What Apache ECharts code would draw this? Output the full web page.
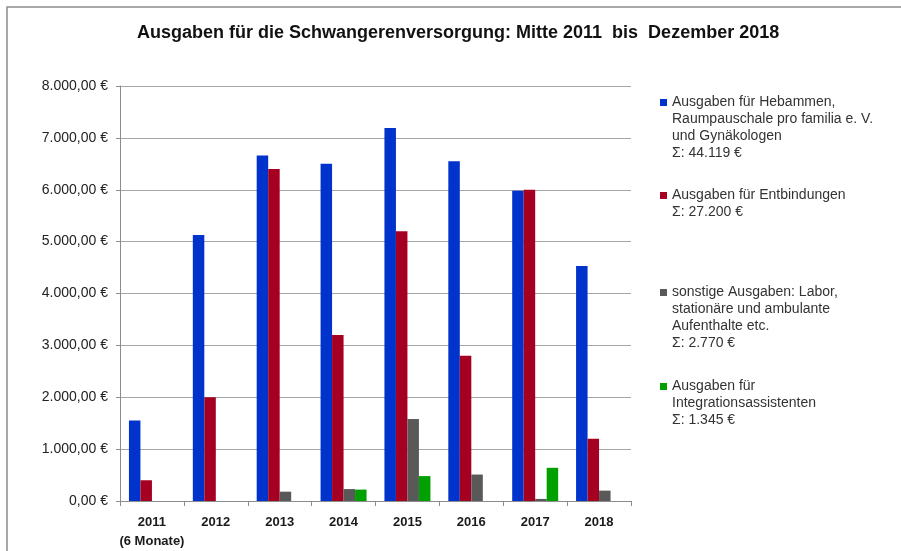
<!DOCTYPE html>
<html>
<head>
<meta charset="utf-8">
<script src="https://cdn.jsdelivr.net/npm/echarts@6/dist/echarts.min.js"></script>
<style>
  html, body { margin: 0; padding: 0; background: #fff; }
  #chart { width: 901px; height: 551px; }
</style>
</head>
<body>
<div id="chart"></div>
<script>
  const years = ['2011\n(6 Monate)', '2012', '2013', '2014', '2015', '2016', '2017', '2018']

  const seriesNames = [
    'Ausgaben für Hebammen, Raumpauschale pro familia e. V. und Gynäkologen',
    'Ausgaben für Entbindungen',
    'sonstige Ausgaben: Labor, stationäre und ambulante Aufenthalte etc.',
    'Ausgaben für Integrationsassistenten'
  ]

  // legend text lines, one array per series
  const legendLines = [
    ['Ausgaben für Hebammen,', 'Raumpauschale pro familia e. V.', 'und Gynäkologen', 'Σ: 44.119 €'],
    ['Ausgaben für Entbindungen', 'Σ: 27.200 €'],
    ['sonstige Ausgaben: Labor,', 'stationäre und ambulante', 'Aufenthalte etc.', 'Σ: 2.770 €'],
    ['Ausgaben für', 'Integrationsassistenten', 'Σ: 1.345 €']
  ]

  const hebammen = [1550, 5130, 6660, 6500, 7190, 6550, 5980, 4530]
  const entbindungen = [400, 2000, 6400, 3200, 5200, 2800, 6000, 1200]
  const sonstige = [0, 0, 180, 230, 1580, 510, 40, 200]
  const integration = [0, 0, 0, 220, 480, 0, 640, 0]

  const colors = ['#0033cc', '#a50021', '#595959', '#00a000']
  const legendTops = [94, 187, 284, 378]

  const font = '"Liberation Sans", Arial, sans-serif'
  const lineH = 17

  const euro = (val) => {
    const parts = val.toFixed(2).split('.')
    const int = parts[0].replace(/\B(?=(\d{3})+(?!\d))/g, '.')
    return int + ',' + parts[1] + ' €'
  }

  // square marker next to the first text line, box stretched to the full text block
  const legendIcon = (n) => {
    const h = n * lineH
    return 'path://M0,0L7,0M0,5L7,5L7,12L0,12ZM0,' + h + 'L7,' + h
  }

  const chart = echarts.init(document.getElementById('chart'))

  const legends = seriesNames.map((name, i) => ({
    data: [name],
    left: 660,
    top: legendTops[i],
    padding: 0,
    orient: 'vertical',
    itemWidth: 7,
    itemHeight: legendLines[i].length * lineH,
    icon: legendIcon(legendLines[i].length),
    itemStyle: { borderWidth: 0 },
    selectedMode: false,
    formatter: () => legendLines[i].join('\n'),
    textStyle: {
      fontFamily: font,
      fontSize: 14,
      color: '#333',
      lineHeight: lineH
    }
  }))

  const dataSets = [hebammen, entbindungen, sonstige, integration]

  const option = {
    backgroundColor: '#fff',
    animation: false,
    color: colors,
    title: {
      text: 'Ausgaben für die Schwangerenversorgung: Mitte 2011  bis  Dezember 2018',
      left: 137,
      top: 24,
      padding: 0,
      textStyle: {
        fontFamily: font,
        fontSize: 18,
        fontWeight: 'bold',
        color: '#111'
      }
    },
    legend: legends,
    grid: {
      left: 120,
      right: 270,
      top: 86,
      bottom: 49
    },
    xAxis: {
      type: 'category',
      data: years,
      axisLine: { lineStyle: { color: '#8c8c8c', width: 1 } },
      axisTick: { show: true, length: 5, lineStyle: { color: '#8c8c8c' } },
      axisLabel: {
        interval: 0,
        color: '#1a1a1a',
        fontFamily: font,
        fontSize: 13,
        fontWeight: 'bold',
        margin: 12,
        lineHeight: 19
      }
    },
    yAxis: {
      type: 'value',
      min: 0,
      max: 8000,
      interval: 1000,
      axisLine: { show: true, lineStyle: { color: '#8c8c8c', width: 1 } },
      axisTick: { show: true, length: 4, lineStyle: { color: '#8c8c8c' } },
      axisLabel: {
        color: '#222',
        fontFamily: font,
        fontSize: 14,
        margin: 12,
        formatter: (val) => euro(val)
      },
      splitLine: { lineStyle: { color: '#a6a6a6', width: 1 } }
    },
    series: dataSets.map((d, i) => ({
      name: seriesNames[i],
      type: 'bar',
      data: d,
      barGap: '0%',
      barCategoryGap: '28%',
      itemStyle: { color: colors[i] }
    })),
    graphic: [
      {
        type: 'rect',
        shape: { x: 7, y: 7, width: 1000, height: 1000 },
        style: { fill: 'none', stroke: '#8c8c8c', lineWidth: 1.5 },
        silent: true
      }
    ]
  }

  chart.setOption(option)
</script>
</body>
</html>
